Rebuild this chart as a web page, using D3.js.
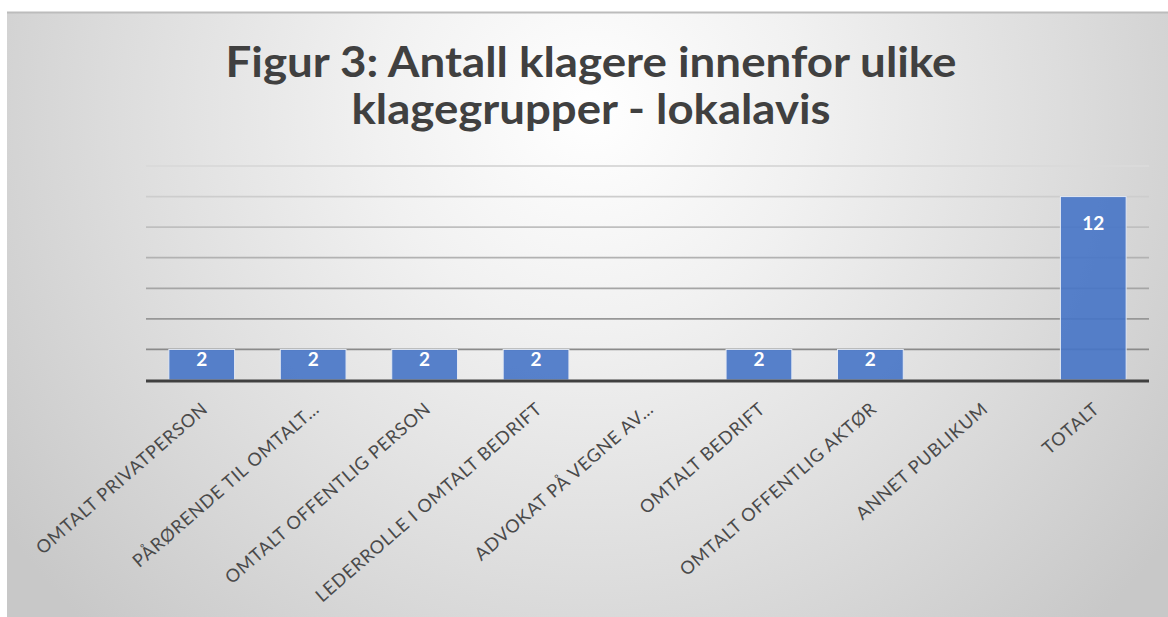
<!DOCTYPE html>
<html lang="no">
<head>
<meta charset="UTF-8">
<title>Figur 3</title>
<style>
  body { margin: 0; background: #fff; }
  svg { display: block; }
</style>
</head>
<body>
<svg width="1168" height="617"></svg>
<script src="https://d3js.org/d3.v7.min.js"></script>
<script>
// data
var categories = [
  "OMTALT PRIVATPERSON",
  "PÅRØRENDE TIL OMTALT…",
  "OMTALT OFFENTLIG PERSON",
  "LEDERROLLE I OMTALT BEDRIFT",
  "ADVOKAT PÅ VEGNE AV…",
  "OMTALT BEDRIFT",
  "OMTALT OFFENTLIG AKTØR",
  "ANNET PUBLIKUM",
  "TOTALT"
];
var values = [2, 2, 2, 2, 0, 2, 2, 0, 12];
var gridTicks = [0, 2, 4, 6, 8, 10, 12, 14];
var titleLines = ["Figur 3: Antall klagere innenfor ulike", "klagegrupper - lokalavis"];

var svg = d3.select("svg");
var W = +svg.attr("width"), H = +svg.attr("height");

// bakgrunn med radial gradient
var defs = svg.append("defs");
var grad = defs.append("radialGradient")
  .attr("id", "bg")
  .attr("gradientUnits", "userSpaceOnUse")
  .attr("cx", 590).attr("cy", 110).attr("r", 720);
grad.append("stop").attr("offset", 0).attr("stop-color", "#ffffff");
grad.append("stop").attr("offset", 0.3).attr("stop-color", "#f1f1f1");
grad.append("stop").attr("offset", 0.65).attr("stop-color", "#dddddd");
grad.append("stop").attr("offset", 1).attr("stop-color", "#c8c8c8");

svg.append("rect")
  .attr("x", 7).attr("y", 12)
  .attr("width", W - 7).attr("height", H - 12)
  .attr("fill", "url(#bg)");
svg.append("line")
  .attr("x1", 7).attr("x2", W).attr("y1", 12.5).attr("y2", 12.5)
  .attr("stroke", "#bcbcbc").attr("stroke-width", 2);

// tittel
var title = svg.append("g").attr("font-family", "Lato, 'Open Sans', sans-serif")
  .attr("font-weight", "bold").attr("fill", "#404040").attr("text-anchor", "middle");
var titleW = [731, 479];
title.selectAll("text").data(titleLines).enter().append("text")
  .attr("x", 591)
  .attr("y", function(d, i) { return 77 + i * 47; })
  .attr("font-size", 42)
  .attr("textLength", function(d, i) { return titleW[i]; })
  .attr("lengthAdjust", "spacingAndGlyphs")
  .text(function(d) { return d; });

// skalaer
var margin = {left: 146, right: 19, top: 166, bottom: 237};
var x = d3.scaleBand().domain(categories)
  .range([margin.left, W - margin.right])
  .paddingInner(0.41).paddingOuter(0.205);
var y = d3.scaleLinear().domain([0, 14]).range([H - margin.bottom, margin.top]);

var gridColor = d3.scaleLinear().domain([2, 14]).range(["#8a8a8a", "#dadada"]);

// rutenett
svg.append("g").selectAll("line")
  .data(gridTicks.filter(function(t) { return t > 0; }))
  .enter().append("line")
  .attr("x1", margin.left).attr("x2", W - margin.right)
  .attr("y1", function(d) { return y(d); })
  .attr("y2", function(d) { return y(d); })
  .attr("stroke", function(d) { return gridColor(d); })
  .attr("stroke-width", 1.8);

// stolper
var bars = svg.append("g").selectAll("g")
  .data(categories.map(function(c, i) { return {cat: c, v: values[i]}; }).filter(function(d) { return d.v > 0; }))
  .enter().append("g");

bars.append("rect")
  .attr("x", function(d) { return x(d.cat); })
  .attr("y", function(d) { return y(d.v); })
  .attr("width", x.bandwidth())
  .attr("height", function(d) { return y(0) - y(d.v); })
  .attr("fill", "#4674c6")
  .attr("fill-opacity", 0.9)
  .attr("stroke", "#e4e9f3")
  .attr("stroke-width", 1);

bars.append("text")
  .attr("x", function(d) { return x(d.cat) + x.bandwidth() / 2; })
  .attr("y", function(d) {
    var h = y(0) - y(d.v);
    return y(d.v) + (h > 60 ? 33 : 17);
  })
  .attr("text-anchor", "middle")
  .attr("font-family", "Lato, sans-serif")
  .attr("font-weight", "bold")
  .attr("font-size", 19)
  .attr("fill", "#ffffff")
  .text(function(d) { return d.v; });

// x-akse linje
svg.append("line")
  .attr("x1", margin.left).attr("x2", W - margin.right)
  .attr("y1", y(0) + 1).attr("y2", y(0) + 1)
  .attr("stroke", "#404040").attr("stroke-width", 3);

// kategorietiketter
svg.append("g").selectAll("text")
  .data(categories)
  .enter().append("text")
  .attr("transform", function(d) {
    return "translate(" + (x(d) + x.bandwidth() / 2 - 1) + "," + (y(0) + 21) + ") rotate(-41)";
  })
  .attr("dy", "0.71em")
  .attr("text-anchor", "end")
  .attr("font-family", "Lato, sans-serif")
  .attr("font-size", 18)
  .attr("letter-spacing", 0.8)
  .attr("fill", "#4a4a4a")
  .text(function(d) { return d; });
</script>
</body>
</html>
